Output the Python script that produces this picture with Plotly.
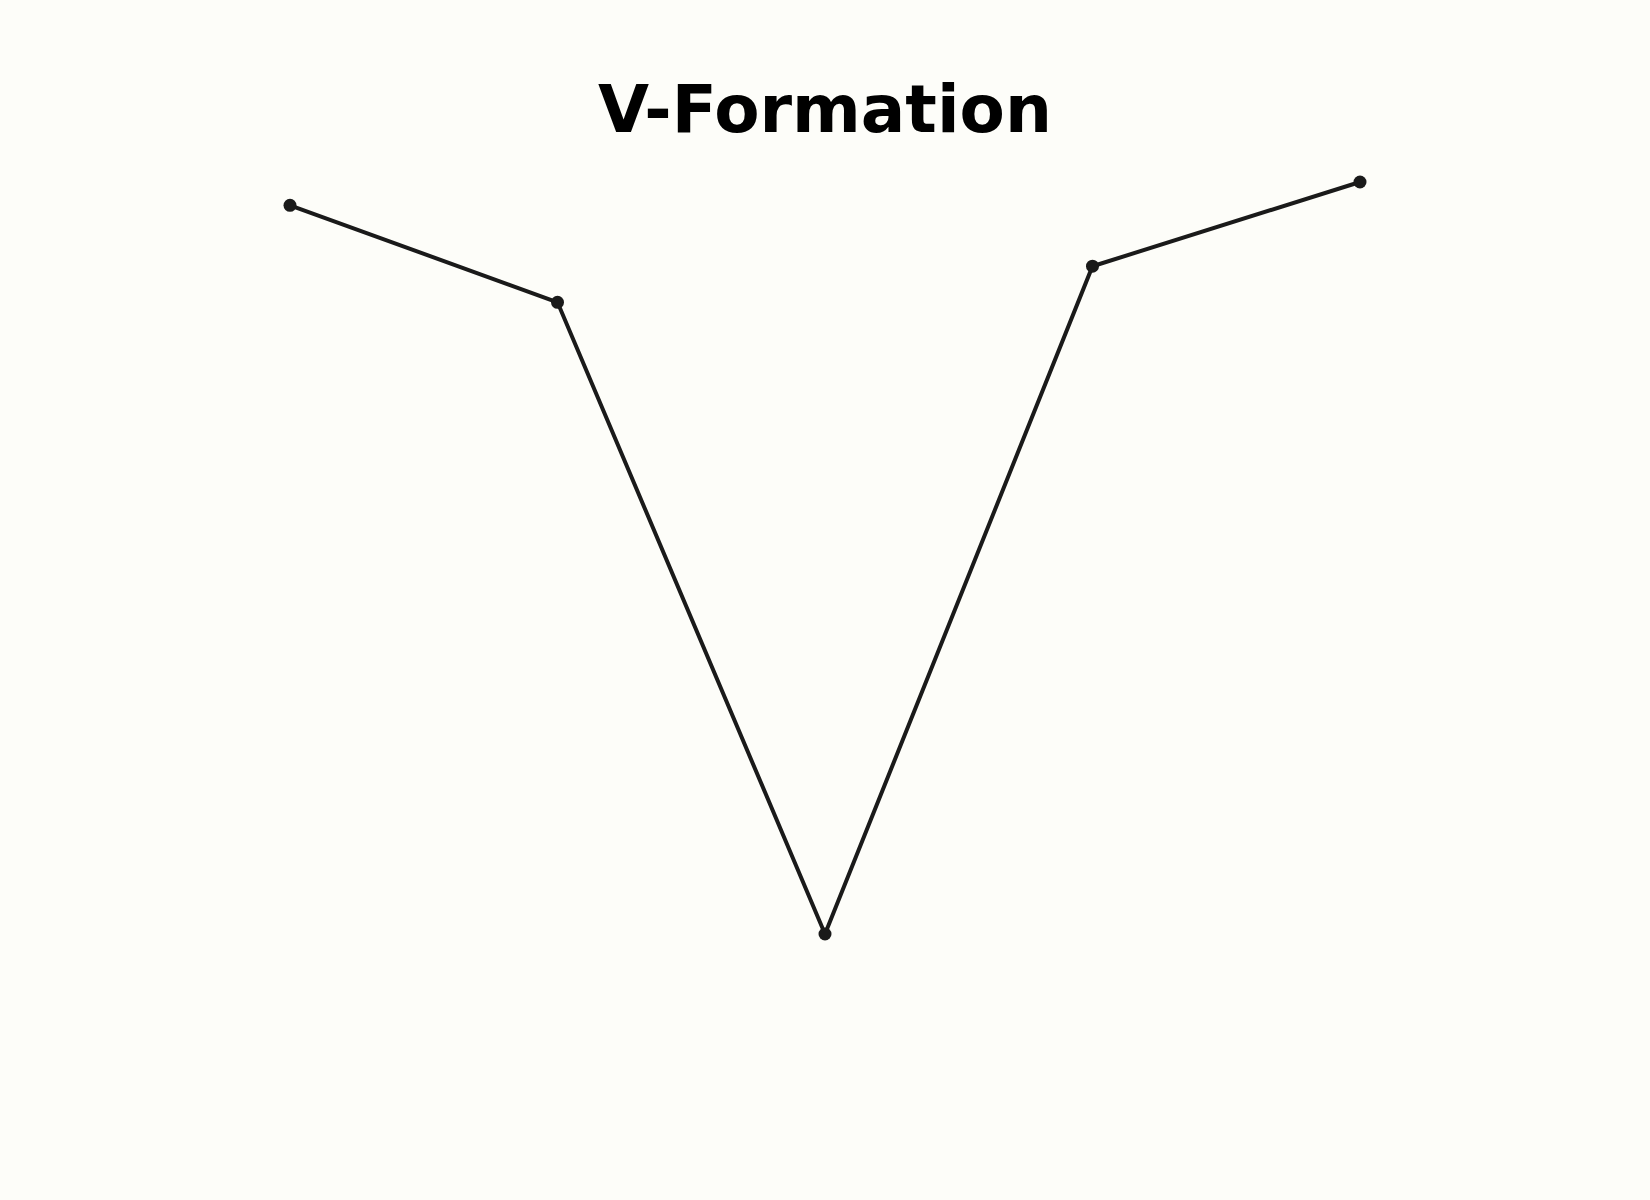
import plotly.graph_objects as go

# positions along the formation and their heights
positions = [0, 1, 2, 3, 4]
heights = [9.69, 8.40, 0.0, 8.88, 10.0]

fig = go.Figure()
fig.add_trace(go.Scatter(
    x=positions, y=heights,
    mode='lines+markers',
    line=dict(color='#1a1a1a', width=4),
    marker=dict(color='#1a1a1a', size=13),
    showlegend=False,
    hoverinfo='x+y',
))

fig.update_layout(
    width=1650, height=1200,
    margin=dict(l=0, r=0, t=0, b=0),
    paper_bgcolor='#fdfdf9',
    plot_bgcolor='#fdfdf9',
    title=dict(text='<b>V-Formation</b>', x=0.5, xanchor='center',
               y=1 - 109 / 1200, yanchor='middle',
               font=dict(family='DejaVu Sans', size=66, color='#000000')),
)
fig.update_xaxes(visible=False, range=[-1.0841, 5.0841])
fig.update_yaxes(visible=False, range=[-3.537, 12.420])

# drop the default page margin so the figure fills the window
fig.write_html("out.html",
               config={'displayModeBar': False},
               post_script="document.body.style.margin='0';"
                           "document.body.style.background='#fdfdf9';")
